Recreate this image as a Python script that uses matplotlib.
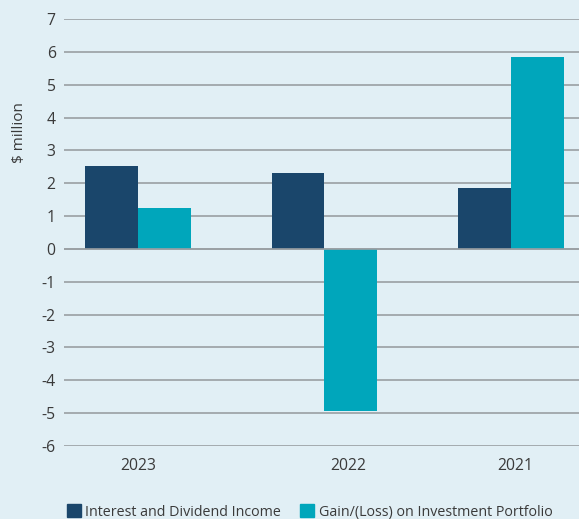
import numpy as np
import matplotlib
matplotlib.use("Agg")
import matplotlib.pyplot as plt
from matplotlib.patches import Patch

# Data
years = ["2023", "2022", "2021"]
interest_dividend = [2.52, 2.30, 1.87]
gain_loss = [1.25, -4.92, 5.83]
series_names = ["Interest and Dividend Income", "Gain/(Loss) on Investment Portfolio"]
y_ticks = list(range(-6, 8))

bg = "#e1eff5"
dark = "#1a466b"
teal = "#00a6bb"
text_color = "#3a3a3a"

plt.rcParams["font.family"] = ["Open Sans", "DejaVu Sans"]

fig = plt.figure(figsize=(5.79, 5.19), dpi=100, facecolor=bg)
ax = fig.add_axes([64 / 579, 1 - 446 / 519, 1 - 64 / 579, (446 - 19) / 519])
ax.set_facecolor(bg)

x = np.arange(len(years))
w = 0.283
ax.bar(x - w / 2, interest_dividend, w, color=dark, zorder=3)
ax.bar(x + w / 2, gain_loss, w, color=teal, zorder=3)

ax.set_ylim(-6, 7)
ax.set_xlim(-0.396, 2.364)
ax.set_yticks(y_ticks)
ax.set_yticklabels([str(t) for t in y_ticks])
ax.grid(axis="y", color="#9a9fa3", linewidth=1.2, zorder=1)
ax.axhline(0, color="#9a9fa3", linewidth=1.2, zorder=4)

# year labels sit slightly off the group centres in the reference
ax.set_xticks([0, 1.13, 2.02])
ax.set_xticklabels(years)
ax.tick_params(length=0, colors=text_color, labelsize=11.3)
ax.tick_params(axis="y", pad=6)
ax.tick_params(axis="x", pad=9)
for s in ax.spines.values():
    s.set_visible(False)

fig.text(19 / 579, 1 - 133 / 519, "$ million", rotation=90, ha="center", va="center",
         fontsize=11, color=text_color)

handles = [Patch(color=dark), Patch(color=teal)]
fig.legend(handles, series_names, loc="lower left", bbox_to_anchor=(54 / 579, -0.026),
           ncol=2, frameon=False, fontsize=10.3, labelcolor=text_color,
           handlelength=1.0, handleheight=1.0, handletextpad=0.3, columnspacing=1.3)

fig.savefig("out.png", dpi=100, facecolor=bg)
